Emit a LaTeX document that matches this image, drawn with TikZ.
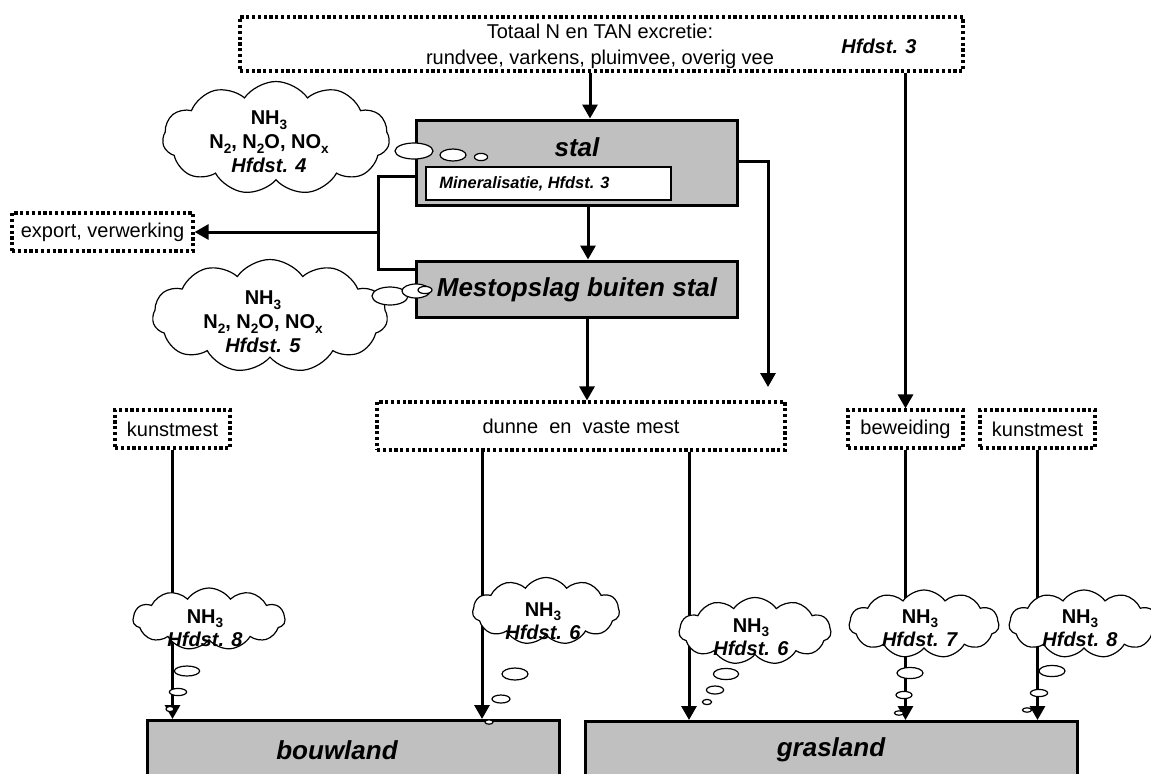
\documentclass[tikz,border=0pt]{standalone}
\usepackage{fontspec}
\setmainfont{Liberation Sans}
\usetikzlibrary{arrows.meta,shapes.symbols}
\definecolor{boxgray}{HTML}{C0C0C0}
\newcommand{\chemsub}[1]{\raisebox{-0.4ex}{\fontsize{6.8}{7}\selectfont #1}}
\begin{document}
\begin{tikzpicture}[x=0.5pt,y=-0.5pt,
  thickline/.style={line width=1.5pt},
  arr/.style={line width=1.5pt,-{Triangle[width=7.5pt,length=7pt]}},
  dotbox/.style={draw,line width=1.6pt,dash pattern=on 1.6pt off 1.3pt,inner sep=0,fill=white,font=\fontsize{10}{12}\selectfont},
  graybox/.style={draw,line width=1.5pt,fill=boxgray,inner sep=0},
  cloudy/.style={cloud,cloud puffs=11,cloud puff arc=110,draw,line width=0.6pt,fill=white,inner sep=0,cloud ignores aspect},
  bubble/.style={draw,line width=0.6pt,fill=white},
  txt/.style={inner sep=0,font=\fontsize{10}{13}\selectfont},
  titletxt/.style={inner sep=0,font=\fontsize{13}{15}\selectfont\bfseries\itshape},
  cloudtxt/.style={inner sep=0,align=center,font=\fontsize{10}{12}\selectfont\bfseries},
  smalltxt/.style={inner sep=0,align=center,font=\fontsize{10}{11.5}\selectfont\bfseries}
]
\useasboundingbox (0,0) rectangle (1151,773);

% helper coordinates
\coordinate (x590) at (590,0);
\coordinate (x588) at (588,0);
\coordinate (x587) at (587,0);
\coordinate (x482) at (482,0);
\coordinate (x689) at (689,0);
\coordinate (lx) at (378,0);
\coordinate (y161) at (0,161);
\coordinate (y176) at (0,176);
\coordinate (y269) at (0,269);
\coordinate (rEnd) at (768,387);

% boxes
\node[dotbox,minimum width=361.5pt,minimum height=27pt] (top) at (601.5,44) {};
\node[txt,align=center] (topT) at (600,46) {Totaal N en TAN excretie:\\rundvee, varkens, pluimvee, overig vee};
\node[inner sep=0,font=\fontsize{10}{12}\selectfont\bfseries\itshape] (h3) at (879,46) {Hfdst. 3};

\node[graybox,minimum width=160.5pt,minimum height=42.5pt] (stal) at (576.5,162.5) {};
\node[draw,fill=white,line width=0.6pt,inner sep=0,minimum width=122.5pt,minimum height=16.5pt] (mineral) at (548.5,183.5) {};
\node[anchor=west,inner sep=0,font=\fontsize{8.2}{10}\selectfont\bfseries\itshape] (mineralT) at (439,184) {Mineralisatie, Hfdst. 3};
\node[titletxt] (stalT) at (577,147) {stal};

\node[graybox,minimum width=160.5pt,minimum height=28pt] (mest) at (576.5,289) {};
\node[titletxt] (mestT) at (577,290) {Mestopslag buiten stal};

\node[dotbox,minimum width=90.5pt,minimum height=19pt] (export) at (102.5,232) {export, verwerking};
\node[dotbox,minimum width=204pt,minimum height=24pt] (dunne) at (581,426) {dunne\ \ en\ \ vaste mest};
\node[dotbox,minimum width=57.5pt,minimum height=19pt] (kunstL) at (172.5,429) {kunstmest};
\node[dotbox,minimum width=57.5pt,minimum height=19pt] (bew) at (905.5,429) {beweiding};
\node[dotbox,minimum width=57.5pt,minimum height=19pt] (kunstR) at (1037.5,429) {kunstmest};

\node[graybox,anchor=north west,minimum width=206pt,minimum height=30pt] (bouw) at (146,719) {};
\node[titletxt] (bouwT) at (337,750) {bouwland};
\node[graybox,anchor=north west,minimum width=246pt,minimum height=30pt] (gras) at (584,720) {};
\node[titletxt] (grasT) at (831,750) {grasland};

% big clouds
\node[cloudy,minimum width=113.5pt,minimum height=56.5pt] (c1) at (276,138) {};
\node[cloudy,minimum width=117.5pt,minimum height=56.5pt] (c2) at (270,316) {};

% connectors
\draw[arr] (top.south -| x590) -- (stal.north -| x590);
\draw[arr] (top.south -| bew.north) -- (bew.north);
\draw[arr] (stal.east |- y161) -- (rEnd |- y161) -- (rEnd);
\draw[arr] (stal.south -| x588) -- (mest.north -| x588);
\draw[arr] (mest.south -| x587) -- (dunne.north -| x587);
\draw[thickline] (stal.west |- y176) -- (lx |- y176) -- (lx |- y269) -- (mest.west |- y269);
\draw[arr] (lx |- export.east) -- (export.east);
\draw[arr] (kunstL.south) -- (bouw.north -| kunstL.south);
\draw[arr] (dunne.south -| x482) -- (bouw.north -| x482);
\draw[arr] (dunne.south -| x689) -- (gras.north -| x689);
\draw[arr] (bew.south) -- (gras.north -| bew.south);
\draw[arr] (kunstR.south) -- (gras.north -| kunstR.south);

% bubbles of big clouds
\draw[bubble] (414,151) ellipse [x radius=9.5pt, y radius=4pt];
\draw[bubble] (453,155) ellipse [x radius=6.5pt, y radius=3pt];
\draw[bubble] (481,157) ellipse [x radius=3.3pt, y radius=1.8pt];
\draw[bubble] (390,296) ellipse [x radius=9pt, y radius=4.5pt];
\draw[bubble] (416,291) ellipse [x radius=7pt, y radius=3.5pt];
\draw[bubble] (425,290) ellipse [x radius=3.5pt, y radius=1.8pt];

\node[cloudtxt] (c1T) at (269,142) {NH\chemsub{3}\\N\chemsub{2}, N\chemsub{2}O, NO\chemsub{x}\\\textit{Hfdst. 4}};
\node[cloudtxt] (c2T) at (263,322) {NH\chemsub{3}\\N\chemsub{2}, N\chemsub{2}O, NO\chemsub{x}\\\textit{Hfdst. 5}};

% small clouds
\node[cloudy,minimum width=76pt,minimum height=31pt] (s1) at (209,619) {};
\node[cloudy,minimum width=73.5pt,minimum height=33.5pt] (s2) at (546,611) {};
\node[cloudy,minimum width=76pt,minimum height=33.5pt] (s3) at (755,631) {};
\node[cloudy,minimum width=75pt,minimum height=34pt] (s4) at (924,624) {};
\node[cloudy,minimum width=75pt,minimum height=34pt] (s5) at (1084,624) {};

\draw[bubble] (187,671) ellipse [x radius=6.3pt, y radius=2.5pt];
\draw[bubble] (178,692) ellipse [x radius=4.3pt, y radius=1.8pt];
\draw[bubble] (170,709) ellipse [x radius=2pt, y radius=1.3pt];
\draw[bubble] (515,674) ellipse [x radius=6.5pt, y radius=3pt];
\draw[bubble] (501,699) ellipse [x radius=4.5pt, y radius=2pt];
\draw[bubble] (489,722) ellipse [x radius=2pt, y radius=1.1pt];
\draw[bubble] (726,674) ellipse [x radius=6.3pt, y radius=2.8pt];
\draw[bubble] (715,690) ellipse [x radius=4.3pt, y radius=2pt];
\draw[bubble] (707,702) ellipse [x radius=2.3pt, y radius=1.3pt];
\draw[bubble] (910,673) ellipse [x radius=6.5pt, y radius=2.8pt];
\draw[bubble] (904,695) ellipse [x radius=4pt, y radius=1.8pt];
\draw[bubble] (899,713) ellipse [x radius=2.3pt, y radius=1.1pt];
\draw[bubble] (1052,671) ellipse [x radius=6.5pt, y radius=2.8pt];
\draw[bubble] (1039,693) ellipse [x radius=4.3pt, y radius=1.8pt];
\draw[bubble] (1027,710) ellipse [x radius=2.3pt, y radius=1.1pt];

\node[smalltxt] (s1T) at (205,628) {NH\chemsub{3}\\\textit{Hfdst. 8}};
\node[smalltxt] (s2T) at (543,621) {NH\chemsub{3}\\\textit{Hfdst. 6}};
\node[smalltxt] (s3T) at (751,637) {NH\chemsub{3}\\\textit{Hfdst. 6}};
\node[smalltxt] (s4T) at (920,628) {NH\chemsub{3}\\\textit{Hfdst. 7}};
\node[smalltxt] (s5T) at (1080,628) {NH\chemsub{3}\\\textit{Hfdst. 8}};
\end{tikzpicture}
\end{document}
